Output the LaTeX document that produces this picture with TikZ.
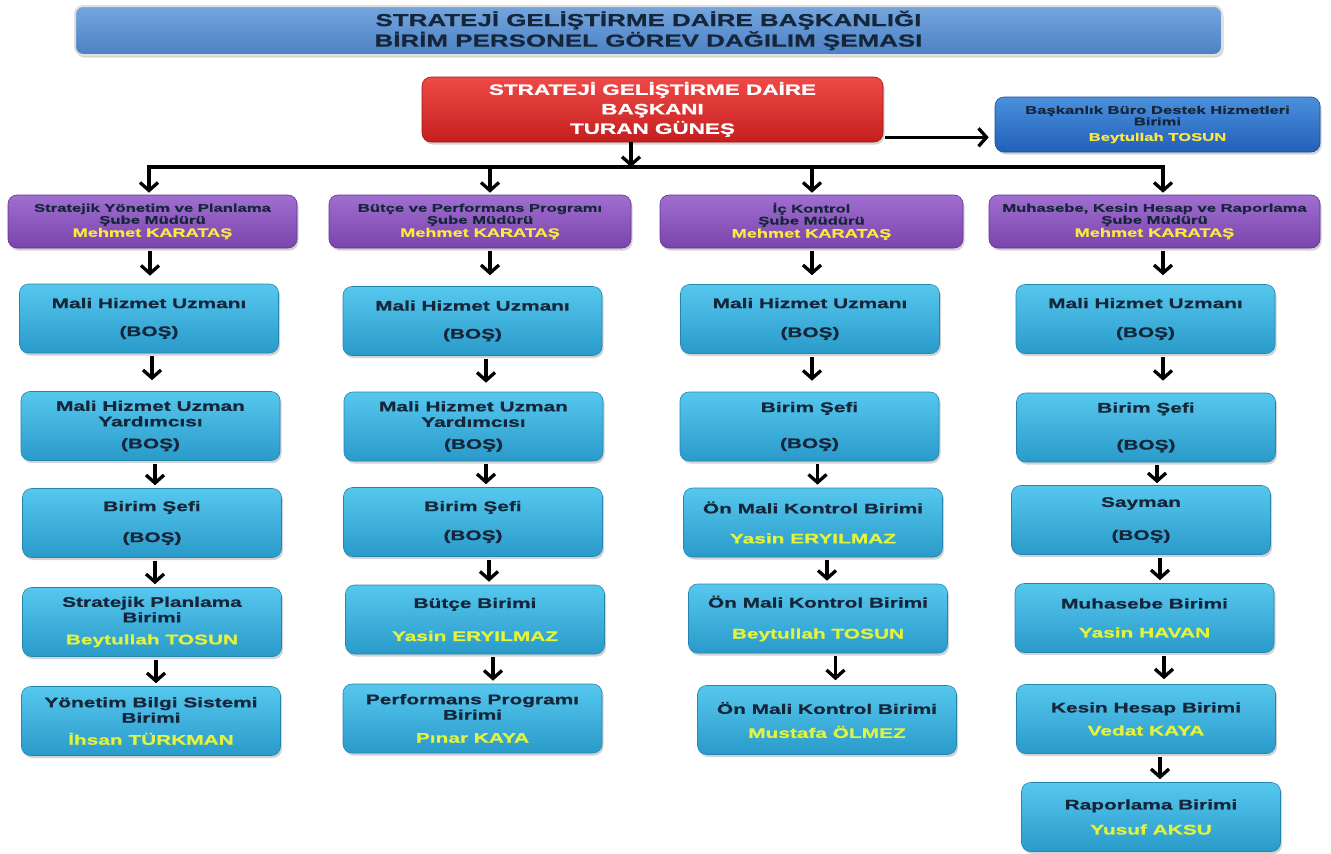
\documentclass[tikz,border=0pt]{standalone}
\usepackage{fontspec}
\setmainfont{Liberation Sans}[FakeStretch=1.5, BoldFeatures={FakeBold=0.8}]
\usetikzlibrary{arrows.meta,shadows,calc}
\definecolor{cytop}{HTML}{56C8EE}
\definecolor{cybot}{HTML}{2A9ACA}
\definecolor{cyedge}{HTML}{2486B0}
\definecolor{rdtop}{HTML}{F04A48}
\definecolor{rdbot}{HTML}{C41E1E}
\definecolor{putop}{HTML}{A06ED0}
\definecolor{pubot}{HTML}{7A44AC}
\definecolor{bltop}{HTML}{4A90DC}
\definecolor{blbot}{HTML}{2260B8}
\definecolor{tttop}{HTML}{74A6DE}
\definecolor{ttbot}{HTML}{4C80C4}
\definecolor{txdark}{HTML}{16263A}
\definecolor{nmyel}{HTML}{E4F43C}
\definecolor{puyel}{HTML}{FCE840}
\newcommand{\cyfont}{\fontsize{13.9}{15.5}\selectfont\bfseries}
\newcommand{\pufont}{\fontsize{11.1}{12}\selectfont\bfseries}
\newcommand{\punm}{\fontsize{12.1}{13}\selectfont\bfseries\color{puyel}}
\newcommand{\nm}[1]{\textcolor{nmyel}{#1}}
\begin{document}
\begin{tikzpicture}[x=1pt,y=-1pt]
\useasboundingbox (0,0) rectangle (1331,854);
\tikzset{
  box/.style={rounded corners=9pt, align=center, inner sep=0pt,
    drop shadow={shadow xshift=1.5pt, shadow yshift=-2.5pt, opacity=0.35}},
  cybox/.style={box, top color=cytop, bottom color=cybot, draw=cyedge, line width=0.6pt,
    minimum width=259pt, minimum height=69pt, text=txdark, font=\cyfont},
  pubox/.style={box, top color=putop, bottom color=pubot, draw=pubot!80!black, line width=0.6pt,
    minimum height=53pt, text=txdark, font=\pufont},
  tip/.style={Straight Barb[length=8pt, width=18pt]},
  arr/.style={line width=3.3pt, shorten <=3pt, -{Straight Barb[length=8pt, width=18pt]}}
}
% title banner
\node[box, rounded corners=8pt, top color=tttop, bottom color=ttbot, draw=gray!25, line width=2pt,
  minimum width=1147pt, minimum height=49pt, text=txdark,
  font=\fontsize{17.3}{20.5}\selectfont\bfseries] (title) at (648.5,30.5)
  {STRATEJİ GELİŞTİRME DAİRE BAŞKANLIĞI\\BİRİM PERSONEL GÖREV DAĞILIM ŞEMASI};
% head
\node[box, top color=rdtop, bottom color=rdbot, draw=rdbot!80!black, line width=0.6pt,
  minimum width=461pt, minimum height=65pt, text=white,
  font=\fontsize{15}{19.5}\selectfont\bfseries] (red) at (652.5,109.5)
  {STRATEJİ GELİŞTİRME DAİRE\\BAŞKANI\\TURAN GÜNEŞ};
\node[box, top color=bltop, bottom color=blbot, draw=blbot!80!black, line width=0.6pt,
  minimum width=325pt, minimum height=55pt, text=txdark,
  font=\fontsize{11.1}{11.5}\selectfont\bfseries] (bask) at (1157.5,124.5)
  {Başkanlık Büro Destek Hizmetleri\\Birimi\\[4pt]\textcolor{puyel}{Beytullah TOSUN}};
% managers
\node[pubox, minimum width=289pt] (p1) at (152.5,221.5)
  {Stratejik Yönetim ve Planlama\\Şube Müdürü\\[1pt]{\punm Mehmet KARATAŞ}};
\node[pubox, minimum width=302pt] (p2) at (480,221.5)
  {Bütçe ve Performans Programı\\Şube Müdürü\\[1pt]{\punm Mehmet KARATAŞ}};
\node[pubox, minimum width=303pt] (p3) at (811.5,221.5)
  {İç Kontrol\\Şube Müdürü\\[1pt]{\punm Mehmet KARATAŞ}};
\node[pubox, minimum width=331pt] (p4) at (1154.5,221.5)
  {Muhasebe, Kesin Hesap ve Raporlama\\Şube Müdürü\\[1pt]{\punm Mehmet KARATAŞ}};
% column 1
\node[cybox] (a1) at (149,318.5) {Mali Hizmet Uzmanı\\[12.5pt](BOŞ)};
\node[cybox] (a2) at (150.5,426) {Mali Hizmet Uzman\\Yardımcısı\\[6.5pt](BOŞ)};
\node[cybox] (a3) at (152,523) {Birim Şefi\\[15.5pt](BOŞ)};
\node[cybox] (a4) at (152,622) {Stratejik Planlama\\Birimi\\[6.5pt]\nm{Beytullah TOSUN}};
\node[cybox] (a5) at (151,721) {Yönetim Bilgi Sistemi\\Birimi\\[6.5pt]\nm{İhsan TÜRKMAN}};
% column 2
\node[cybox] (b1) at (472.5,321) {Mali Hizmet Uzmanı\\[12.5pt](BOŞ)};
\node[cybox] (b2) at (473.5,426.5) {Mali Hizmet Uzman\\Yardımcısı\\[6.5pt](BOŞ)};
\node[cybox] (b3) at (473,522) {Birim Şefi\\[13.5pt](BOŞ)};
\node[cybox] (b4) at (475,619.5) {Bütçe Birimi\\[17.5pt]\nm{Yasin ERYILMAZ}};
\node[cybox] (b5) at (472.5,718.5) {Performans Programı\\Birimi\\[7.5pt]\nm{Pınar KAYA}};
% column 3
\node[cybox] (c1) at (810,319) {Mali Hizmet Uzmanı\\[13.5pt](BOŞ)};
\node[cybox] (c2) at (809.5,426.5) {Birim Şefi\\[20.5pt](BOŞ)};
\node[cybox] (c3) at (813,522.5) {Ön Mali Kontrol Birimi\\[14.5pt]\nm{Yasin ERYILMAZ}};
\node[cybox] (c4) at (818,618.5) {Ön Mali Kontrol Birimi\\[15.5pt]\nm{Beytullah TOSUN}};
\node[cybox] (c5) at (827,720) {Ön Mali Kontrol Birimi\\[8.5pt]\nm{Mustafa ÖLMEZ}};
% column 4
\node[cybox] (d1) at (1145.5,319) {Mali Hizmet Uzmanı\\[13.5pt](BOŞ)};
\node[cybox] (d2) at (1146,427.5) {Birim Şefi\\[21.5pt](BOŞ)};
\node[cybox] (d3) at (1141,520) {Sayman\\[17.5pt](BOŞ)};
\node[cybox] (d4) at (1144.5,618) {Muhasebe Birimi\\[13.5pt]\nm{Yasin HAVAN}};
\node[cybox] (d5) at (1146,719) {Kesin Hesap Birimi\\[7.5pt]\nm{Vedat KAYA}};
\node[cybox] (d6) at (1151,817) {Raporlama Birimi\\[9.5pt]\nm{Yusuf AKSU}};
% top connectors
\coordinate (bus1) at (149,167);
\coordinate (bus2) at (490,167);
\coordinate (bus3) at (812,167);
\coordinate (bus4) at (1163,167);
\coordinate (busr) at (631,167);
\draw[arr, shorten <=0pt, shorten >=0pt] (busr |- red.south) -- (busr);
\draw[line width=3.3pt, line join=miter, shorten <=2pt, shorten >=2pt,
  {Straight Barb[length=8pt, width=18pt]}-{Straight Barb[length=8pt, width=18pt]}]
  (bus1 |- p1.north) -- (bus1) -- (bus4) -- (bus4 |- p4.north);
\draw[arr, shorten <=0pt, shorten >=2pt] (bus2) -- (bus2 |- p2.north);
\draw[arr, shorten <=0pt, shorten >=2pt] (bus3) -- (bus3 |- p3.north);
\draw[arr, shorten <=2pt, shorten >=6pt] ($(red.south east)+(0,-5)$) -- ($(bask.west |- red.south east)+(0,-5)$);
% column connectors
\newcommand{\carr}[4]{\draw[arr, shorten >=#4pt] ([xshift=#3pt]#1.south) -- ([xshift=#3pt]#1.south |- #2.north);}
\carr{p1}{a1}{-2.5}{8}
\carr{a1}{a2}{3}{11}
\carr{a2}{a3}{4.5}{3}
\carr{a3}{a4}{3}{3}
\carr{a4}{a5}{4}{3}
\carr{p2}{b1}{10}{11}
\carr{b1}{b2}{13.5}{9}
\carr{b2}{b3}{12.5}{3}
\carr{b3}{b4}{16}{3}
\carr{b4}{b5}{18}{3}
\carr{p3}{c1}{0.5}{9}
\carr{c1}{c2}{2}{11}
\carr{c2}{c3}{8}{3}
\carr{c3}{c4}{14}{3}
\carr{c4}{c5}{17.5}{5}
\carr{p4}{d1}{8.5}{9}
\carr{d1}{d2}{17.5}{12}
\carr{d2}{d3}{11}{2}
\carr{d3}{d4}{19}{3}
\carr{d4}{d5}{19.5}{5}
\carr{d5}{d6}{14}{3}
\end{tikzpicture}
\end{document}
